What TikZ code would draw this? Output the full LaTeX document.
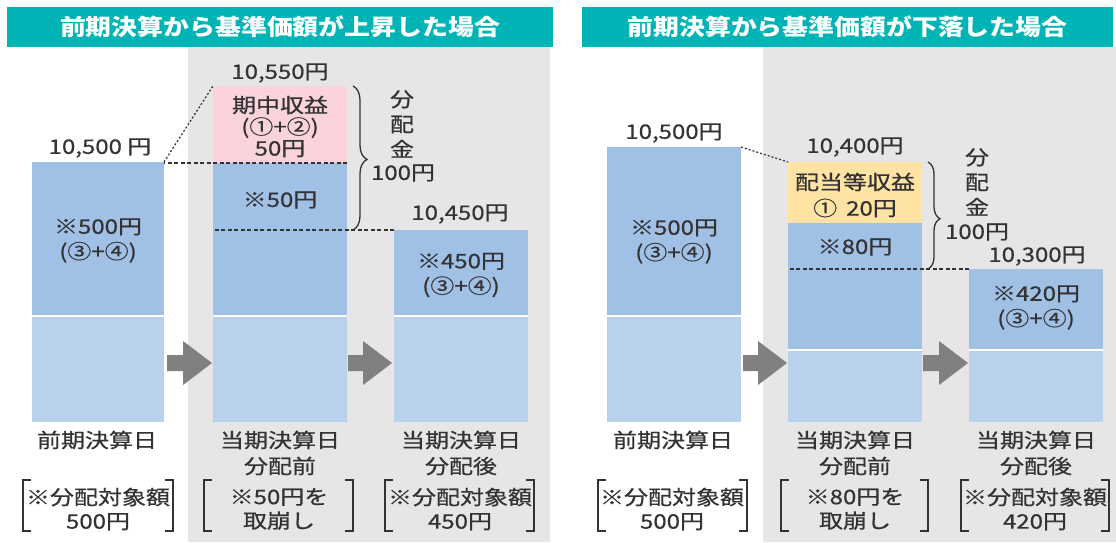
\documentclass[tikz,border=0pt]{standalone}
\usepackage{fontspec}
\newfontfamily\jp[FakeStretch=1.2,FakeBold=0.6]{Noto Sans CJK JP}
\newfontfamily\jph[FakeStretch=1.15]{Noto Sans CJK JP}
\usetikzlibrary{decorations.pathreplacing}
\definecolor{hdrc}{HTML}{00B3B5}
\definecolor{bgray}{HTML}{E6E6E6}
\definecolor{dblue}{HTML}{A0C0E6}
\definecolor{lblue}{HTML}{BAD1EE}
\definecolor{pinkc}{HTML}{FAD3DC}
\definecolor{yelc}{HTML}{FFE3A3}
\definecolor{arrg}{HTML}{808080}
\definecolor{tc}{HTML}{333333}
\begin{document}
\begin{tikzpicture}[x=1pt,y=-1pt,
  hdr/.style={rectangle, fill=hdrc, text=white, inner sep=0, font=\jph\bfseries\fontsize{22.5}{25}\selectfont},
  seg/.style={rectangle, inner sep=0, outer sep=0, draw=none, anchor=north west},
  txt/.style={inner sep=0, text=tc, align=center, font=\jp\fontsize{20}{25}\selectfont},
  txtp/.style={inner sep=0, text=tc, align=center, font=\jp\fontsize{20}{21.5}\selectfont},
  txtl/.style={inner sep=0, text=tc, align=center, font=\jp\fontsize{20}{26}\selectfont},
  txtb/.style={inner sep=0, text=tc, align=center, font=\jp\fontsize{20}{24}\selectfont},
  dashline/.style={draw=tc, line width=1.2pt, dash pattern=on 4pt off 2.5pt},
  dotline/.style={draw=tc, line width=1.2pt, dash pattern=on 2pt off 2pt},
  bracelin/.style={draw=tc, line width=1.3pt, decorate},
  sepline/.style={draw=white, line width=1.6pt},
  brk/.style={draw=tc, line width=1.4pt},
  blockarr/.style={fill=arrg}
]
\useasboundingbox (0,0) rectangle (1116,542);
\fill[white] (0,0) rectangle (1116,542);

% ---------------- left panel ----------------
\fill[bgray] (188,47) rectangle (550,542);
\node[hdr, minimum width=546pt, minimum height=40pt] (hL) at (280,27) {前期決算から基準価額が上昇した場合};

\node[seg, fill=dblue, minimum width=132pt, minimum height=154pt] (L1d) at (32,162) {};
\node[seg, fill=lblue, minimum width=132pt, minimum height=106pt] (L1l) at (32,316) {};
\draw[sepline] (L1d.south west) -- (L1d.south east);

\node[seg, fill=pinkc, minimum width=134pt, minimum height=77pt] (L2p) at (213,86) {};
\node[seg, fill=dblue, minimum width=134pt, minimum height=153pt] (L2b) at (213,163) {};
\node[seg, fill=lblue, minimum width=134pt, minimum height=106pt] (L2l) at (213,316) {};
\draw[sepline] (L2b.south west) -- (L2b.south east);

\node[seg, fill=dblue, minimum width=134pt, minimum height=86pt] (L3b) at (394,230) {};
\node[seg, fill=lblue, minimum width=134pt, minimum height=106pt] (L3l) at (394,316) {};
\draw[sepline] (L3b.south west) -- (L3b.south east);

\draw[dotline] (L1d.north east) -- (L2p.north west);
\draw[dashline] (L2b.north east) -- (L2b.north east -| L1d.east);
\draw[dashline] (L3b.north west) -- (L3b.north west -| L2b.west);

\draw[bracelin, decoration={brace, amplitude=14pt, aspect=0.51}] ([xshift=6pt]L2p.north east) -- ([xshift=6pt]L3b.north west -| L2b.east);

\fill[blockarr] (167,355) -- (183,355) -- (183,341) -- (212,363) -- (183,385) -- (183,371) -- (167,371) -- cycle;
\fill[blockarr] (348,355) -- (363,355) -- (363,341) -- (392,363) -- (363,385) -- (363,371) -- (348,371) -- cycle;

\node[txt] (tL1) at (100,148) {10,500 円};
\node[txt] (tL2) at (280,73) {10,550円};
\node[txt] (tL3) at (460,214) {10,450円};
\node[txt] (bL1) at (98,240.5) {※500円\\(③+④)};
\node[txtp] (pL2) at (280,126.5) {期中収益\\(①+②)\\50円};
\node[txt] (bL2) at (280,200) {※50円};
\node[txt] (bL3) at (461,275) {※450円\\(③+④)};
\node[txt] (kL) at (402,124) {分\\配\\金};
\node[txt] (mL) at (403,173) {100円};
\node[txtl] (dL1) at (97,440) {前期決算日};
\node[txtl] (dL2) at (280,453) {当期決算日\\分配前};
\node[txtl] (dL3) at (461,453) {当期決算日\\分配後};
\node[txtb] (nL1) at (98,509) {※分配対象額\\500円};
\node[txtb] (nL2) at (279,509) {※50円を\\取崩し};
\node[txtb] (nL3) at (460,509) {※分配対象額\\450円};

\draw[brk] (31,480) -- (23,480) -- (23,531) -- (31,531);
\draw[brk] (165,480) -- (173,480) -- (173,531) -- (165,531);
\draw[brk] (212,480) -- (204,480) -- (204,531) -- (212,531);
\draw[brk] (345,480) -- (353,480) -- (353,531) -- (345,531);
\draw[brk] (393,480) -- (385,480) -- (385,531) -- (393,531);
\draw[brk] (526,480) -- (534,480) -- (534,531) -- (526,531);

% ---------------- right panel ----------------
\fill[bgray] (763,47) rectangle (1116,542);
\node[hdr, minimum width=531pt, minimum height=40pt] (hR) at (847.5,27) {前期決算から基準価額が下落した場合};

\node[seg, fill=dblue, minimum width=134pt, minimum height=169pt] (R1d) at (607,147) {};
\node[seg, fill=lblue, minimum width=134pt, minimum height=106pt] (R1l) at (607,316) {};
\draw[sepline] (R1d.south west) -- (R1d.south east);

\node[seg, fill=yelc, minimum width=134pt, minimum height=61pt] (R2y) at (788,162) {};
\node[seg, fill=dblue, minimum width=134pt, minimum height=127pt] (R2b) at (788,223) {};
\node[seg, fill=lblue, minimum width=134pt, minimum height=72pt] (R2l) at (788,350) {};
\draw[sepline] (R2b.south west) -- (R2b.south east);

\node[seg, fill=dblue, minimum width=134pt, minimum height=81pt] (R3b) at (969,269) {};
\node[seg, fill=lblue, minimum width=134pt, minimum height=72pt] (R3l) at (969,350) {};
\draw[sepline] (R3b.south west) -- (R3b.south east);

\draw[dotline] (R1d.north east) -- (R2y.north west);
\draw[dashline] (R3b.north west) -- (R3b.north west -| R2b.west);

\draw[bracelin, decoration={brace, amplitude=12pt, aspect=0.53}] ([xshift=6pt]R2y.north east) -- ([xshift=6pt]R3b.north west -| R2b.east);

\fill[blockarr] (743,355) -- (758,355) -- (758,341) -- (787,363) -- (758,385) -- (758,371) -- (743,371) -- cycle;
\fill[blockarr] (923,355) -- (939,355) -- (939,341) -- (968,363) -- (939,385) -- (939,371) -- (923,371) -- cycle;

\node[txt] (tR1) at (674,133) {10,500円};
\node[txt] (tR2) at (855,147) {10,400円};
\node[txt] (tR3) at (1037,256) {10,300円};
\node[txt] (bR1) at (674,241.5) {※500円\\(③+④)};
\node[txtl] (yR2) at (855,195) {配当等収益\\①\hspace{9pt}20円};
\node[txt] (bR2) at (855,247) {※80円};
\node[txt] (bR3) at (1036,307.5) {※420円\\(③+④)};
\node[txt] (kR) at (977,182) {分\\配\\金};
\node[txt] (mR) at (977,232) {100円};
\node[txtl] (dR1) at (673,440) {前期決算日};
\node[txtl] (dR2) at (855,453) {当期決算日\\分配前};
\node[txtl] (dR3) at (1036,453) {当期決算日\\分配後};
\node[txtb] (nR1) at (672,509) {※分配対象額\\500円};
\node[txtb] (nR2) at (855,509) {※80円を\\取崩し};
\node[txtb] (nR3) at (1035,509) {※分配対象額\\420円};

\draw[brk] (606,480) -- (598,480) -- (598,531) -- (606,531);
\draw[brk] (739,480) -- (747,480) -- (747,531) -- (739,531);
\draw[brk] (789,480) -- (781,480) -- (781,531) -- (789,531);
\draw[brk] (920,480) -- (928,480) -- (928,531) -- (920,531);
\draw[brk] (969,480) -- (961,480) -- (961,531) -- (969,531);
\draw[brk] (1101,480) -- (1109,480) -- (1109,531) -- (1101,531);
\end{tikzpicture}
\end{document}
